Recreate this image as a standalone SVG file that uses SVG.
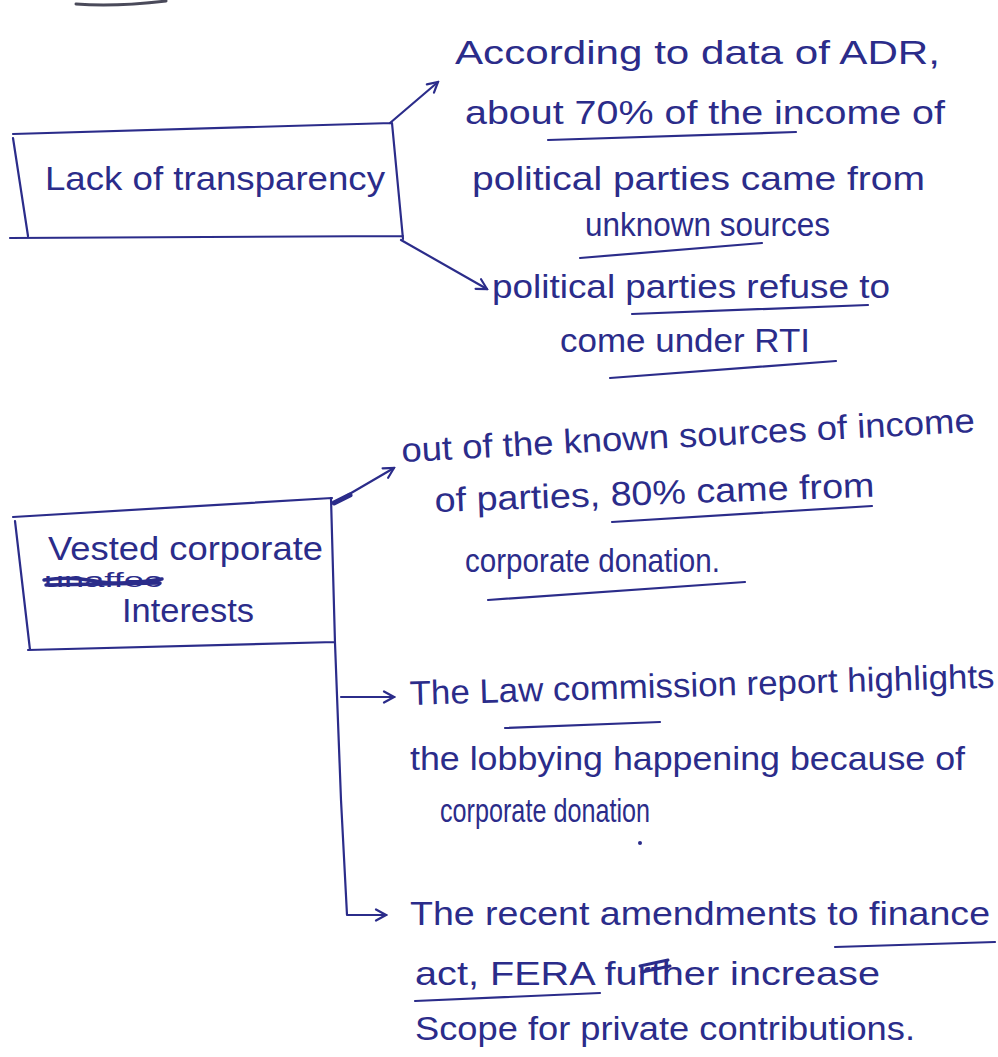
<svg xmlns="http://www.w3.org/2000/svg" width="998" height="1057" viewBox="0 0 998 1057">
  <style>
    .ink { fill: #2b2c8a; font-family: "Liberation Sans", "DejaVu Sans", sans-serif; font-size: 34px; }
    .pen { stroke: #2b2c8a; stroke-width: 2.2; fill: none; stroke-linecap: round; stroke-linejoin: round; }
    .thick { stroke: #2b2c8a; stroke-width: 5; fill: none; stroke-linecap: round; }
  </style>
  <defs>
    <marker id="arrow" viewBox="0 0 14 14" refX="12" refY="7" markerWidth="14" markerHeight="14" markerUnits="userSpaceOnUse" orient="auto">
      <path d="M2,1.5 L12,7 L2,12.5" fill="none" stroke="#2b2c8a" stroke-width="2.2" stroke-linecap="round"/>
    </marker>
  </defs>

  <rect width="998" height="1057" fill="#ffffff"/>

  <!-- pen mark cut off at the top edge -->
  <path d="M76,4 Q115,7 166,1" stroke="#4a4a5a" stroke-width="3" fill="none" stroke-linecap="round"/>

  <!-- first topic box -->
  <g id="lack-of-transparency">
    <path class="pen" d="M13,134 L392,123 M13,138 L28,236 M392,123 L403,239 M10,238 L403,236"/>
    <text class="ink" x="45" y="190" textLength="340" lengthAdjust="spacingAndGlyphs">Lack of transparency</text>
  </g>

  <g id="adr-income">
    <text class="ink" x="455" y="64" textLength="485" lengthAdjust="spacingAndGlyphs">According to data of ADR,</text>
    <text class="ink" x="465" y="124" textLength="480" lengthAdjust="spacingAndGlyphs">about 70% of the income of</text>
    <path class="pen" d="M548,140 L796,132"/>
    <text class="ink" x="472" y="190" textLength="453" lengthAdjust="spacingAndGlyphs">political parties came from</text>
    <text class="ink" x="585" y="236" textLength="245" lengthAdjust="spacingAndGlyphs">unknown sources</text>
    <path class="pen" d="M580,258 L762,243"/>
  </g>

  <g id="rti">
    <text class="ink" x="492" y="298" textLength="398" lengthAdjust="spacingAndGlyphs">political parties refuse to</text>
    <path class="pen" d="M632,314 L868,305"/>
    <text class="ink" x="560" y="352" textLength="250" lengthAdjust="spacingAndGlyphs">come under RTI</text>
    <path class="pen" d="M610,378 L836,361"/>
  </g>

  <!-- second topic box -->
  <g id="vested-interests">
    <path class="pen" d="M13,517 L332,498 M15,521 L30,650 M28,650 L335,642 M331,498 L335,643"/>
    <text class="ink" x="48" y="560" textLength="275" lengthAdjust="spacingAndGlyphs">Vested corporate</text>
    <text class="ink" x="44" y="587" textLength="118" lengthAdjust="spacingAndGlyphs" style="font-size:20px">unaffec</text>
    <path d="M44,580 Q70,576 95,581 T162,579 M46,585 L160,583" stroke="#2b2c8a" stroke-width="3.5" fill="none" stroke-linecap="round"/>
    <text class="ink" x="122" y="622" textLength="132" lengthAdjust="spacingAndGlyphs">Interests</text>
  </g>

  <g id="known-sources">
    <text class="ink" x="402" y="462" textLength="574" lengthAdjust="spacingAndGlyphs" transform="rotate(-3 402 462)">out of the known sources of income</text>
    <text class="ink" x="435" y="512" textLength="440" lengthAdjust="spacingAndGlyphs" transform="rotate(-2 435 512)">of parties, 80% came from</text>
    <path class="pen" d="M612,522 L872,506"/>
    <text class="ink" x="465" y="572" textLength="255" lengthAdjust="spacingAndGlyphs">corporate donation.</text>
    <path class="pen" d="M488,600 L745,582"/>
  </g>

  <g id="law-commission">
    <text class="ink" x="410" y="705" textLength="585" lengthAdjust="spacingAndGlyphs" transform="rotate(-1.7 410 705)">The Law commission report highlights</text>
    <path class="pen" d="M505,728 L660,722"/>
    <text class="ink" x="410" y="770" textLength="555" lengthAdjust="spacingAndGlyphs">the lobbying happening because of</text>
    <text class="ink" x="440" y="822" textLength="210" lengthAdjust="spacingAndGlyphs">corporate donation</text>
    <circle cx="640" cy="843" r="2" fill="#2b2c8a"/>
  </g>

  <g id="amendments">
    <text class="ink" x="410" y="925" textLength="580" lengthAdjust="spacingAndGlyphs">The recent amendments to finance</text>
    <path class="pen" d="M835,947 L995,942"/>
    <text class="ink" x="415" y="985" textLength="465" lengthAdjust="spacingAndGlyphs">act, FERA further increase</text>
    <path d="M640,966 L668,960 M642,972 L670,966" stroke="#2b2c8a" stroke-width="3" fill="none" stroke-linecap="round"/>
    <path class="pen" d="M415,1001 L600,993"/>
    <text class="ink" x="415" y="1040" textLength="500" lengthAdjust="spacingAndGlyphs">Scope for private contributions.</text>
  </g>

  <g id="connectors">
    <path class="pen" d="M390,123 L438,82" marker-end="url(#arrow)"/>
    <path class="pen" d="M401,240 L487,289" marker-end="url(#arrow)"/>
    <path class="thick" d="M334,503 L350,495"/>
    <path class="pen" d="M334,503 L394,468" marker-end="url(#arrow)"/>
    <path class="pen" d="M335,643 L341,800 L347,915 L386,915" marker-end="url(#arrow)"/>
    <path class="pen" d="M341,697 L394,697" marker-end="url(#arrow)"/>
  </g>
</svg>
